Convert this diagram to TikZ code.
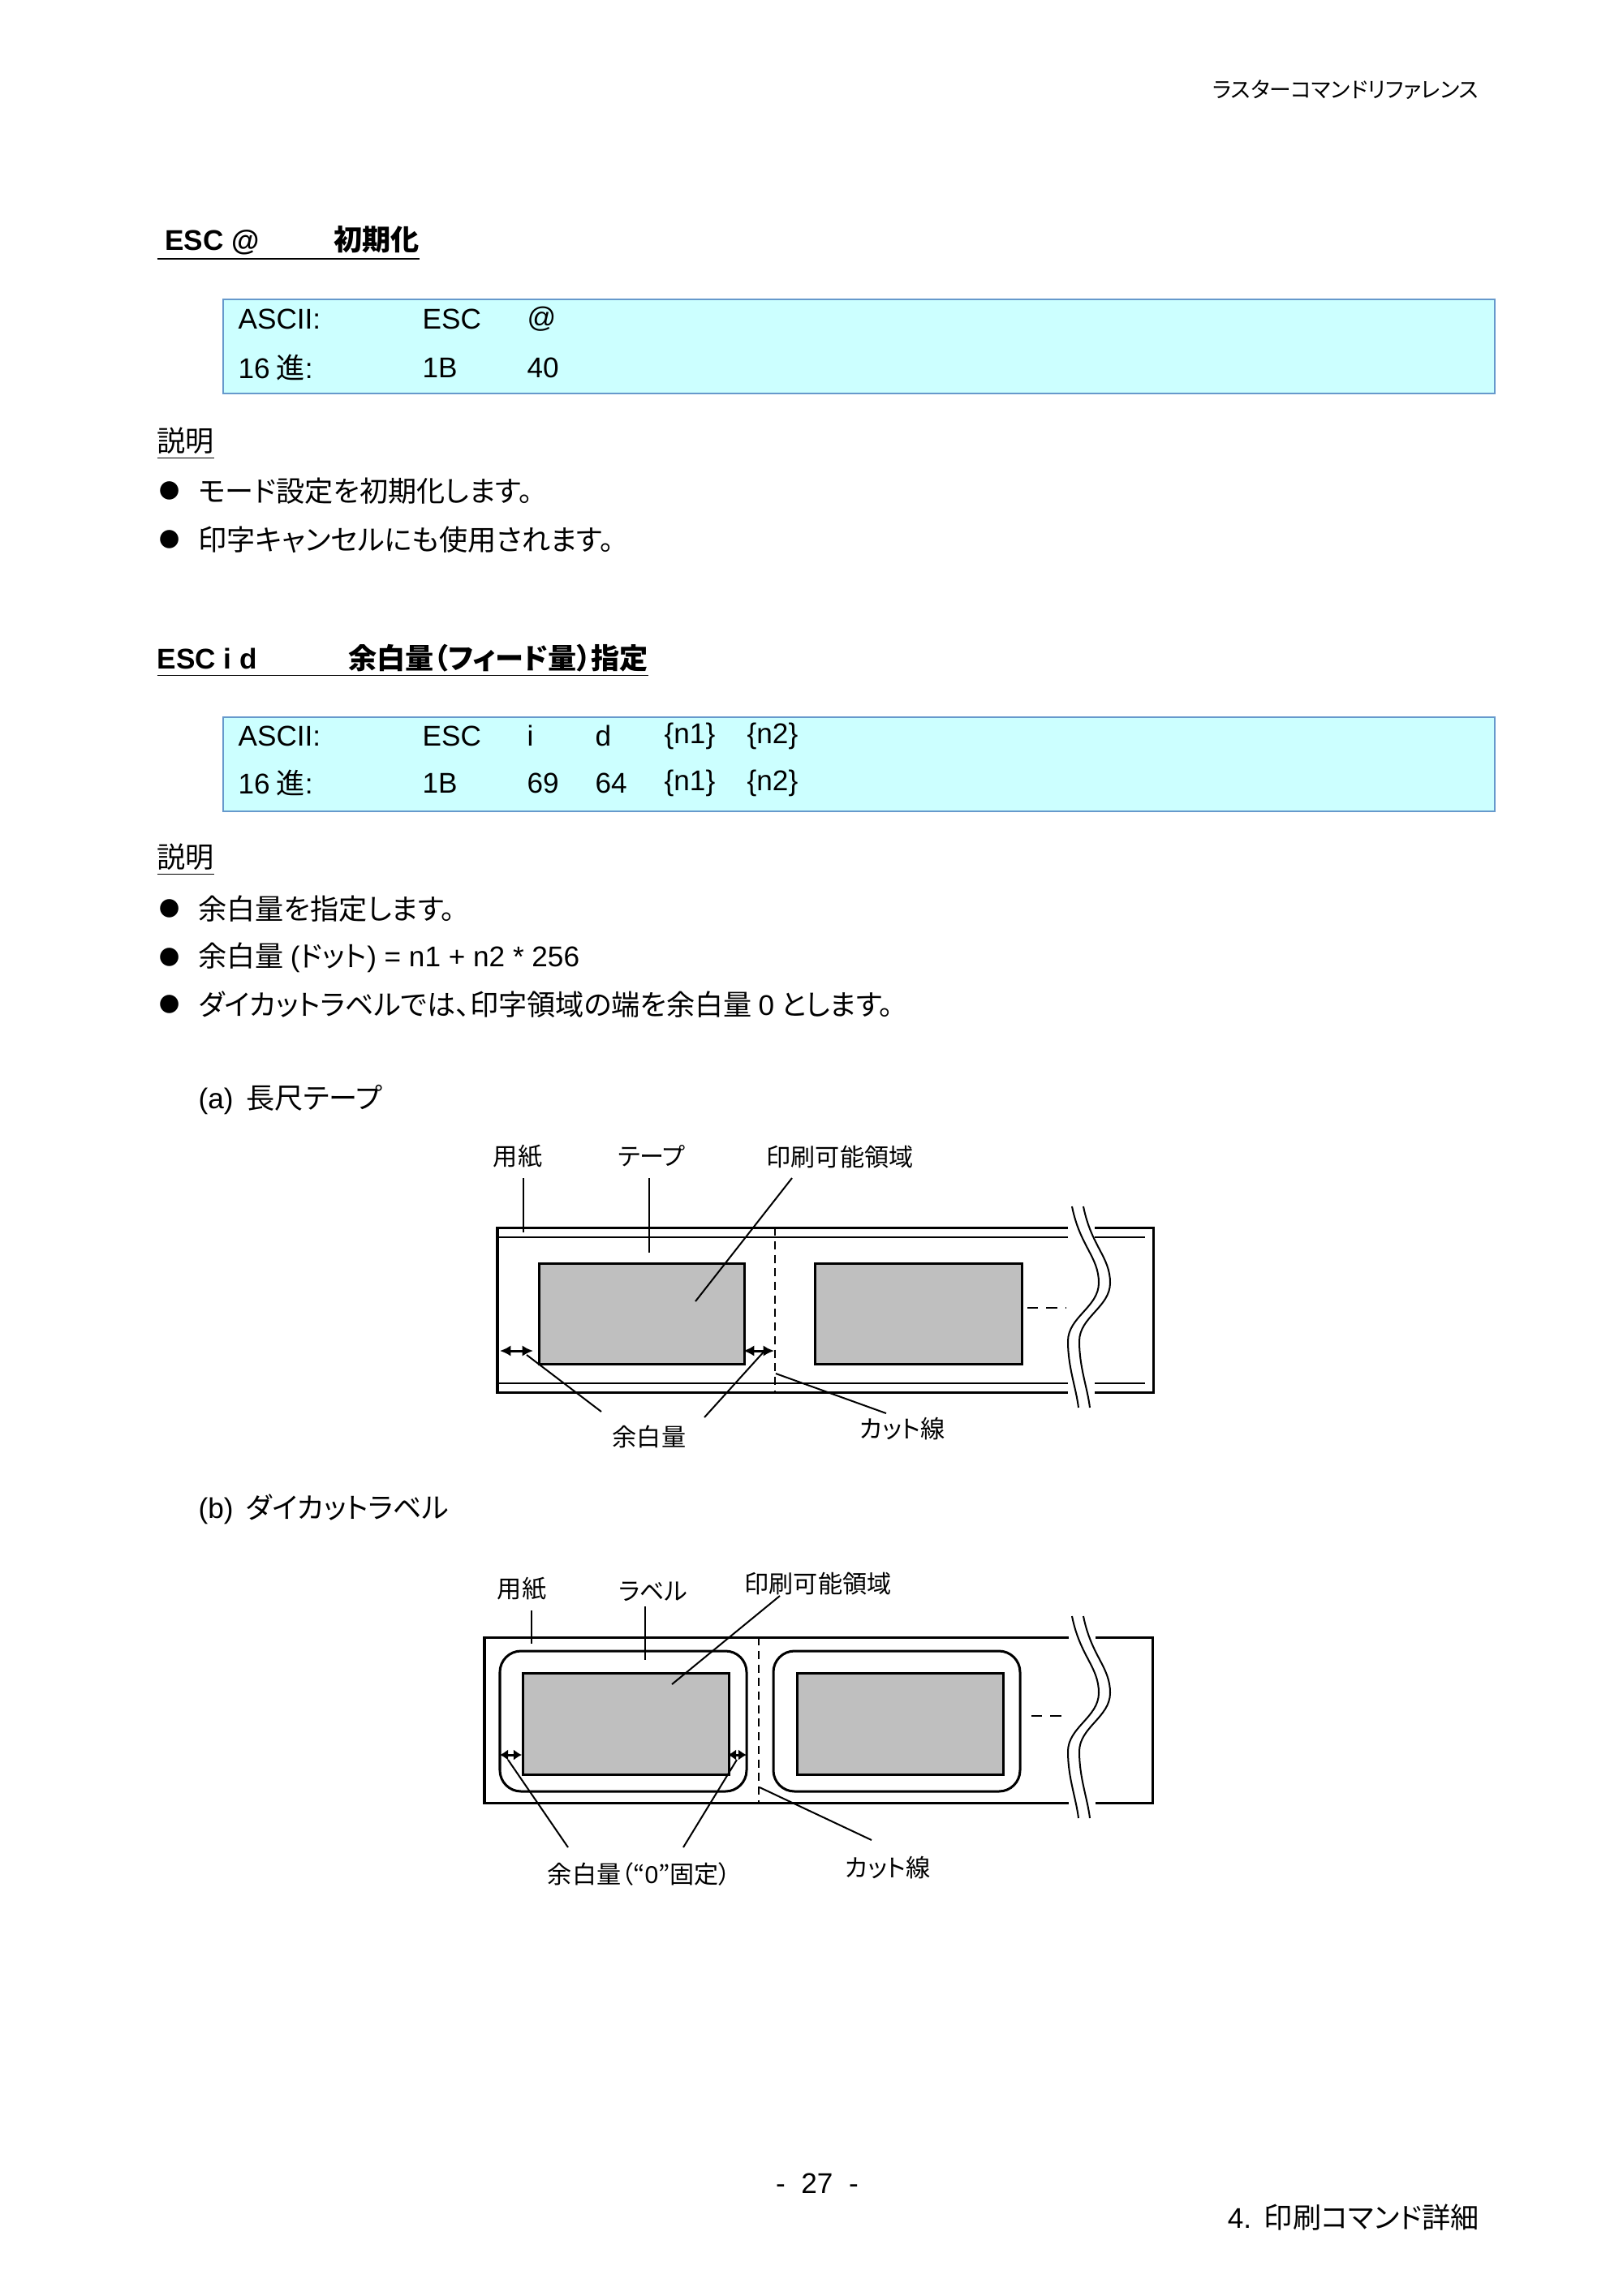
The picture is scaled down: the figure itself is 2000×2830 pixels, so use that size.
\documentclass[tikz,border=0pt]{standalone}
\usepackage{fontspec}
\setmainfont{Noto Sans CJK JP}[RawFeature=+palt]
\newfontfamily\lat{Liberation Sans}
\usetikzlibrary{arrows.meta}
\definecolor{boxfill}{HTML}{CCFFFF}
\definecolor{boxline}{HTML}{6699CC}
\newcommand\wavyline[3]{% x, y0, y1
  \draw[thin] (#1,#2) .. controls ({#1+10},{#2+0.2*(#3-#2)}) and ({#1+33},{#2+0.25*(#3-#2)}) .. ({#1+33},{#2+0.38*(#3-#2)})
    .. controls ({#1+33},{#2+0.5*(#3-#2)}) and ({#1-5},{#2+0.55*(#3-#2)}) .. ({#1-5},{#2+0.67*(#3-#2)})
    .. controls ({#1-5},{#2+0.8*(#3-#2)}) and ({#1+5},{#2+0.9*(#3-#2)}) .. ({#1+8},#3);}
\begin{document}
\begin{tikzpicture}[x=0.105mm,y=-0.105mm,
  txt/.style={anchor=west,inner sep=0,font=\fontsize{10.5}{12}\selectfont},
  bul/.style={anchor=west,inner sep=0,font=\fontsize{7.5}{9}\selectfont},
  lbl/.style={inner sep=0,font=\fontsize{9}{10}\selectfont},
  cmdbox/.style={draw=boxline,fill=boxfill,line width=0.7pt},
  heavy/.style={line width=0.9pt},
  thin/.style={line width=0.6pt},
  gray/.style={draw,line width=0.8pt,fill=black!25},
  cut/.style={line width=0.6pt,dash pattern=on 3pt off 2pt},
  dim/.style={line width=0.9pt,{Latex[length=4pt,width=4pt]}-{Latex[length=4pt,width=4pt]}},
  dimb/.style={line width=0.9pt,{Latex[length=3pt,width=4pt]}-{Latex[length=3pt,width=4pt]}}]
\useasboundingbox (0,0) rectangle (2000,2830);
% header/footer
\node[anchor=east,inner sep=0,font=\fontsize{8}{9}\selectfont] (hdr) at (1823,111) {ラスターコマンドリファレンス};
\node[inner sep=0,font=\fontsize{10.5}{12}\selectfont\lat] (pg) at (1007,2691) {-\ \ 27\ \ -};
\node[anchor=east,inner sep=0,font=\fontsize{10.5}{12}\selectfont] (ftr) at (1823,2733) {{\lat 4.}\ \ 印刷コマンド詳細};
% section 1
\node[txt,font=\bfseries\fontsize{10.5}{12}\selectfont] (h1) at (193,300) {\underline{{\lat\bfseries\ ESC @}\hspace{2.6em}初期化}};
\draw[cmdbox] (275,369) rectangle (1842,485);
\node[txt] (a1) at (293,393) {\lat ASCII:};
\node[txt] (a2) at (520,393) {\lat ESC};
\node[txt] (a3) at (649,393) {\lat @};
\node[txt] (b1) at (293,453) {{\lat 16} 進{\lat :}};
\node[txt] (b2) at (520,453) {\lat 1B};
\node[txt] (b3) at (649,453) {\lat 40};
\node[txt] (s1) at (193,547) {\underline{説明}};
\node[bul] (p1) at (196,605) {●};
\node[txt] (t1) at (244,605) {モード設定を初期化します。};
\node[bul] (p2) at (196,665) {●};
\node[txt] (t2) at (244,665) {印字キャンセルにも使用されます。};
% section 2
\node[txt,font=\bfseries\fontsize{10.5}{12}\selectfont] (h2) at (193,814) {\underline{{\lat\bfseries ESC i d}\hspace{3.2em}余白量（フィード量）指定}};
\draw[cmdbox] (275,884) rectangle (1842,1000);
\node[txt] (c1) at (293,907) {\lat ASCII:};
\node[txt] (c2) at (520,907) {\lat ESC};
\node[txt] (c3) at (649,907) {\lat i};
\node[txt] (c4) at (733,907) {\lat d};
\node[txt] (c5) at (818,907) {\lat \{n1\}};
\node[txt] (c6) at (920,907) {\lat \{n2\}};
\node[txt] (d1) at (293,965) {{\lat 16} 進{\lat :}};
\node[txt] (d2) at (520,965) {\lat 1B};
\node[txt] (d3) at (649,965) {\lat 69};
\node[txt] (d4) at (733,965) {\lat 64};
\node[txt] (d5) at (818,965) {\lat \{n1\}};
\node[txt] (d6) at (920,965) {\lat \{n2\}};
\node[txt] (s2) at (193,1060) {\underline{説明}};
\node[bul] (q1) at (196,1120) {●};
\node[txt] (u1) at (244,1120) {余白量を指定します。};
\node[bul] (q2) at (196,1180) {●};
\node[txt] (u2) at (244,1180) {余白量 {\lat (}ドット{\lat ) = n1 + n2 * 256}};
\node[bul] (q3) at (196,1238) {●};
\node[txt] (u3) at (244,1238) {ダイカットラベルでは、印字領域の端を余白量 {\lat 0} とします。};
\node[txt] (ca) at (244,1356) {{\lat (a)}\ \ 長尺テープ};
\node[txt] (cb) at (244,1860) {{\lat (b)}\ \ ダイカットラベル};
% ---- diagram (a)
\draw[heavy] (1316,1513) -- (613,1513) -- (613,1716) -- (1316,1716);
\draw[heavy] (1349,1513) -- (1421,1513) -- (1421,1716) -- (1349,1716);
\draw[thin] (613,1525) -- (1316,1525) (1349,1525) -- (1411,1525);
\draw[thin] (613,1705) -- (1316,1705) (1349,1705) -- (1411,1705);
\wavyline{1321}{1487}{1735}
\wavyline{1335}{1487}{1735}
\draw[cut] (955,1513) -- (955,1716);
\node[gray,minimum width=253*0.105mm,minimum height=124*0.105mm,anchor=north west,inner sep=0] (ga1) at (663,1556) {};
\node[gray,minimum width=255*0.105mm,minimum height=124*0.105mm,anchor=north west,inner sep=0] (ga2) at (1003,1556) {};
\draw[thin,dash pattern=on 4pt off 3pt] (1266,1612) -- (1313,1612);
\draw[dim] (616,1665) -- (657,1665);
\draw[dim] (916,1665) -- (954,1665);
\node[lbl] (la1) at (638,1425) {用紙};
\node[lbl] (la2) at (803,1425) {テープ};
\node[lbl] (la3) at (1035,1426) {印刷可能領域};
\node[lbl] (la4) at (800,1771) {余白量};
\node[lbl] (la5) at (1112,1761) {カット線};
\coordinate (ea1) at (645,1519); \coordinate (sa1) at (645,1452);
\coordinate (ea2) at (800,1544); \coordinate (sa2) at (800,1452);
\coordinate (ea3) at (857,1604); \coordinate (sa3) at (976,1452);
\coordinate (ea4) at (649,1670); \coordinate (sa4) at (741,1740);
\coordinate (ea5) at (944,1663); \coordinate (sa5) at (868,1747);
\coordinate (ea6) at (956,1693); \coordinate (sa6) at (1092,1742);
\foreach \i in {1,...,6} \draw[thin] (sa\i) -- (ea\i);
% ---- diagram (b)
\draw[heavy] (1317,2018) -- (597,2018) -- (597,2222) -- (1317,2222);
\draw[heavy] (1350,2018) -- (1420,2018) -- (1420,2222) -- (1350,2222);
\wavyline{1321}{1992}{2241}
\wavyline{1335}{1992}{2241}
\draw[cut] (935,2018) -- (935,2222);
\draw[heavy,rounded corners=26*0.105mm] (616,2035) rectangle (920,2208);
\draw[heavy,rounded corners=26*0.105mm] (953,2035) rectangle (1257,2208);
\node[gray,minimum width=254*0.105mm,minimum height=125*0.105mm,anchor=north west,inner sep=0] (gb1) at (643,2061) {};
\node[gray,minimum width=254*0.105mm,minimum height=125*0.105mm,anchor=north west,inner sep=0] (gb2) at (981,2061) {};
\draw[thin,dash pattern=on 4pt off 3pt] (1271,2115) -- (1316,2115);
\draw[dimb] (616,2163) -- (643,2163);
\draw[dimb] (897,2163) -- (920,2163);
\node[lbl] (lb1) at (643,1958) {用紙};
\node[lbl] (lb2) at (805,1962) {ラベル};
\node[lbl] (lb3) at (1008,1952) {印刷可能領域};
\node[lbl] (lb4) at (788,2310) {余白量（“{\lat 0}”固定）};
\node[lbl] (lb5) at (1094,2302) {カット線};
\coordinate (eb1) at (655,2026); \coordinate (sb1) at (655,1985);
\coordinate (eb2) at (795,2046); \coordinate (sb2) at (795,1980);
\coordinate (eb3) at (828,2076); \coordinate (sb3) at (961,1967);
\coordinate (eb4) at (626,2169); \coordinate (sb4) at (700,2277);
\coordinate (eb5) at (908,2169); \coordinate (sb5) at (842,2277);
\coordinate (eb6) at (936,2203); \coordinate (sb6) at (1074,2268);
\foreach \i in {1,...,6} \draw[thin] (sb\i) -- (eb\i);
\end{tikzpicture}
\end{document}
